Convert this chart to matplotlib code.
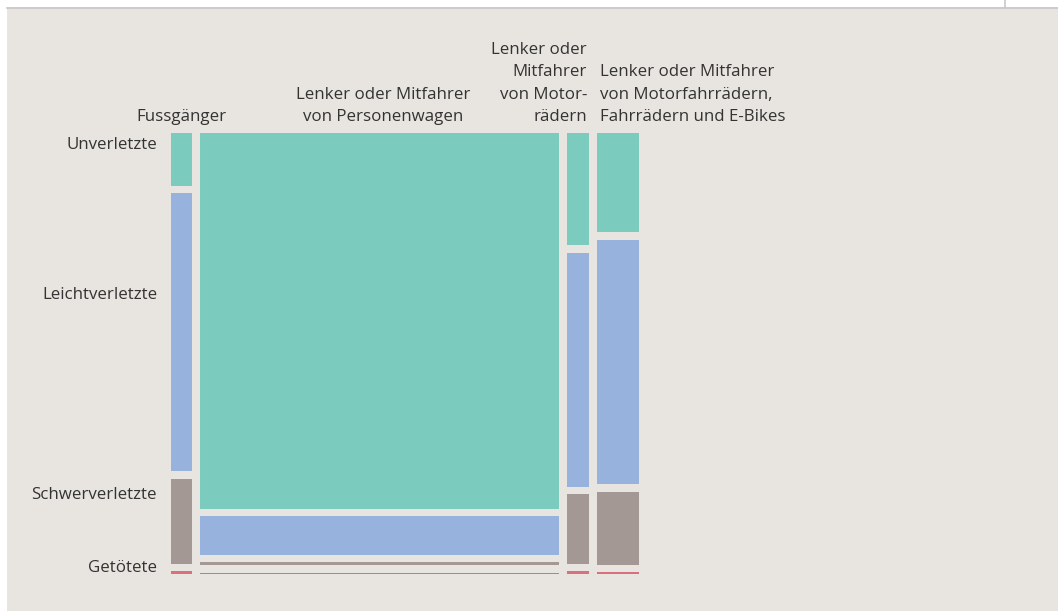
#! /usr/bin/env python3
# Mosaic chart: persons involved in road accidents, by road user type and injury

import matplotlib.pyplot as plt
from matplotlib.patches import Rectangle
from matplotlib.lines import Line2D
import numpy as np

# road user groups (columns) and injury levels (rows)
groups = ["Fussgänger",
          "Lenker oder Mitfahrer\nvon Personenwagen",
          "Lenker oder\nMitfahrer\nvon Motor-\nrädern",
          "Lenker oder Mitfahrer\nvon Motorfahrrädern,\nFahrrädern und E-Bikes"]
levels = ["Unverletzte", "Leichtverletzte", "Schwerverletzte", "Getötete"]

# persons per group, one list per injury level
unverletzte = [540, 66150, 1205, 2040]
leichtverletzte = [2860, 6690, 2510, 5020]
schwerverletzte = [870, 530, 745, 1500]
getoetete = [30, 260, 32, 40]

colors = ["#7ccbbf", "#97b2dc", "#a39894", "#d9707b"]
bg = "#e8e5e0"
text_col = "#333333"

W, H = 1058, 611
fig = plt.figure(figsize=(W / 100, H / 100), dpi=100)
fig.patch.set_facecolor("white")

# beige panel with thin frame line on top
fig.add_artist(Rectangle((7 / W, 0), 1, 1 - 7 / H, transform=fig.transFigure,
                         facecolor=bg, edgecolor="none", zorder=0))
fig.add_artist(Line2D([7 / W, 1], [1 - 7.5 / H, 1 - 7.5 / H], transform=fig.transFigure,
                      color="#c8c8c8", lw=1.2))
fig.add_artist(Line2D([1005 / W, 1005 / W], [1 - 7.5 / H, 1], transform=fig.transFigure,
                      color="#c8c8c8", lw=1.2))

# plot area in pixels
left, right, top, bottom = 171, 639, 133, 574
ax = fig.add_axes([left / W, 1 - bottom / H, (right - left) / W, (bottom - top) / H])
ax.set_xlim(0, right - left)
ax.set_ylim(bottom - top, 0)
ax.axis("off")
ax.patch.set_visible(False)

gap_x = 8
gap_y = 7.5
data = np.array([unverletzte, leichtverletzte, schwerverletzte, getoetete], dtype=float)
totals = data.sum(axis=0)
widths = (right - left - gap_x * (len(groups) - 1)) * totals / totals.sum()
lefts = np.concatenate([[0], np.cumsum(widths + gap_x)[:-1]])
avail_h = (bottom - top) - gap_y * (len(levels) - 1)
heights = avail_h * data / totals

for j in range(len(groups)):
    y = 0
    for i in range(len(levels)):
        h = max(heights[i, j], 2)
        ax.bar(lefts[j], h, width=widths[j], bottom=y, align="edge",
               color=colors[i], edgecolor="none")
        y += heights[i, j] + gap_y

font = "Open Sans"
fs = 12.2

# row labels
label_y = [12, 162, 362, 435]
for lab, yy in zip(levels, label_y):
    ax.text(-14, yy, lab, ha="right", va="center", fontsize=fs, color=text_col,
            family=font, clip_on=False)

# column labels
for j, g in enumerate(groups):
    if j == 2:
        x, ha = lefts[j] + widths[j] - 2, "right"
        ma = "right"
    elif j == 3:
        x, ha = lefts[j] + 3, "left"
        ma = "left"
    else:
        x, ha = lefts[j] + widths[j] / 2 + (4 if j == 1 else 0), "center"
        ma = "center"
    ax.text(x, -8, g, ha=ha, va="bottom", multialignment=ma, fontsize=fs,
            color=text_col, family=font, linespacing=1.53, clip_on=False)

fig.savefig("out.png", dpi=100, facecolor=fig.get_facecolor())
